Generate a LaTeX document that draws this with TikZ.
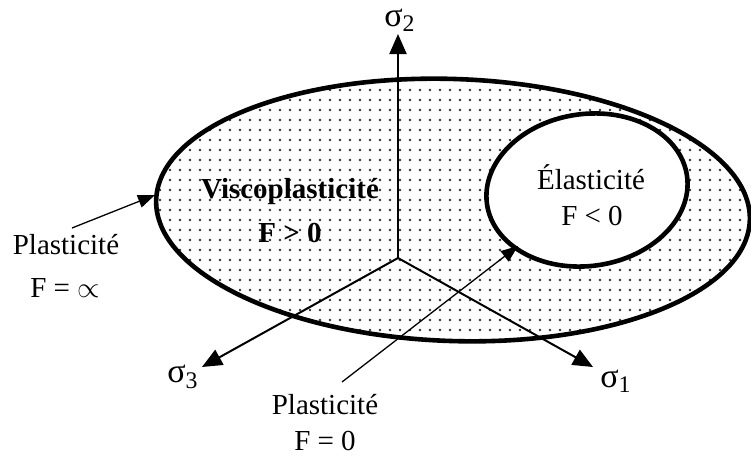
\documentclass[tikz,border=0pt]{standalone}
\usepackage{fontspec}
\setmainfont{Liberation Serif}
\usetikzlibrary{arrows.meta,calc}

\begin{document}
\begin{tikzpicture}[x=0.5pt, y=-0.5pt]

\tikzset{
    zone/.style={line width=2.3pt},
    axis/.style={line width=1pt, -{Triangle[length=10pt, width=8.5pt]}},
    pointer/.style={line width=0.65pt, -{Triangle[length=8.5pt, width=6.5pt]}},
    lbl/.style={font=\fontsize{14.5}{17}\selectfont, inner sep=0pt},
    sig/.style={font=\fontsize{17}{19}\selectfont, inner sep=0pt},
    dotcol/.style={fill=black!80}
}

\useasboundingbox (0,0) rectangle (751,456);

\coordinate (C) at (453,210);   % outer surface
\coordinate (E) at (587,190);   % elastic domain
\coordinate (O) at (398,258);   % origin of stress space

%====================================================
% viscoplastic zone (dotted)
%====================================================
\begin{scope}
    \clip[rotate around={-2:(C)}] (C) ellipse [x radius=297, y radius=131];
    \foreach \x in {150,160,...,750}{
        \foreach \y in {70,80,...,350}{
            \fill[dotcol] (\x,\y) circle (1.35);
        }
    }
\end{scope}

% elastic domain, white
\fill[white, rotate around={8:(E)}] (E) ellipse [x radius=101, y radius=76];

%====================================================
% axes
%====================================================
\coordinate (s1tip) at (593,367);
\coordinate (s2tip) at (398,34);
\coordinate (s3tip) at (202,367);

\draw[axis] (O) -- (s2tip);
\draw[axis] (O) -- (s1tip);
\draw[axis] (O) -- (s3tip);

\node[sig] (s2lab) at (400,20) {σ\textsubscript{2}};
\node[sig] (s1lab) at (616,381) {σ\textsubscript{1}};
\node[sig] (s3lab) at (183,377) {σ\textsubscript{3}};

%====================================================
% surfaces
%====================================================
\draw[zone, rotate around={-2:(C)}] (C) ellipse [x radius=297, y radius=131];
\draw[zone, rotate around={8:(E)}] (E) ellipse [x radius=101, y radius=76];

% labels inside
\node[lbl, font=\fontsize{14.5}{17}\selectfont\bfseries] (visc) at (290,192) {Viscoplasticité};
\node[lbl, font=\fontsize{14.5}{17}\selectfont\bfseries] (fpos) at (290,233) {F > 0};
\node[lbl] (elas) at (591,177) {Élasticité};
\node[lbl] (fneg) at (592,216) {F < 0};

%====================================================
% pointers
%====================================================
\node[lbl] (plinf) at (66,245) {Plasticité};
\node[lbl] (finf) at (65,288) {F = $\propto$};
\coordinate (pinftail) at (72,228);
\coordinate (pinftip) at (155,195);
\draw[pointer] (pinftail) -- (pinftip);

\node[lbl] (plzero) at (325,405) {Plasticité};
\node[lbl] (fzero) at (325,441) {F = 0};
\coordinate (pzerotail) at (342,382);
\coordinate (pzerotip) at (518,246);
\draw[pointer] (pzerotail) -- (pzerotip);

\end{tikzpicture}
\end{document}
